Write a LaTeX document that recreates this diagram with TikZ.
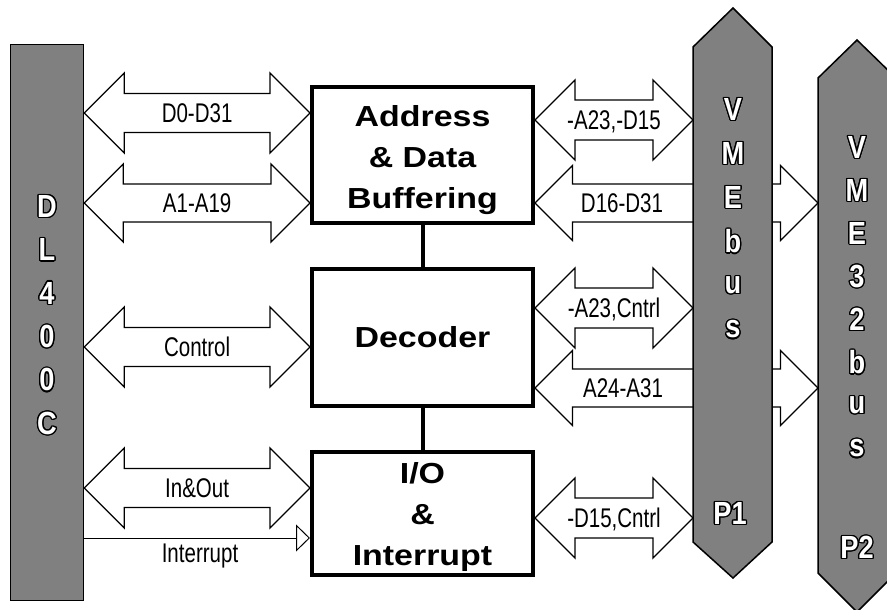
\documentclass[tikz,border=0pt]{standalone}
\usepackage{fontspec}
\usepackage{contour}
\usetikzlibrary{arrows.meta,calc}
\setmainfont{Liberation Sans}
\newfontfamily\labelfont[FakeStretch=0.76]{Liberation Sans}
\newfontfamily\boxfont[FakeStretch=1.17]{Liberation Sans Bold}
\newfontfamily\barfont[FakeStretch=0.85]{Liberation Sans Bold}
\contourlength{1.3pt}
% lettere bianche con bordo nero
\newcommand\hollow[1]{\contour{black}{\textcolor{white}{#1}}}

% hollow double arrow: tip, tip, head size, half shaft
\newcommand\busarrow[4]{%
  \draw[busline] (#1) -- ++(#3,-#3) -- ++(0,#3-#4) -- ($(#2)+(-#3,-#4)$)
    -- ++(0,#4-#3) -- (#2) -- ++(-#3,#3) -- ++(0,#4-#3)
    -- ($(#1)+(#3,#4)$) -- ++(0,#3-#4) -- cycle;
}

\tikzset{
  bar/.style={fill=black!50, draw=black, line width=1.5pt},
  blockbox/.style={draw, line width=4pt, fill=white, align=center, inner sep=0pt,
    font=\boxfont\fontsize{29pt}{41pt}\selectfont},
  link/.style={line width=4pt},
  busline/.style={draw=black, fill=white, line width=1.3pt, line join=miter},
  buslabel/.style={font=\labelfont\fontsize{27pt}{30pt}\selectfont, inner sep=0pt,
    text height=19.5pt, text depth=0pt},
  barletter/.style={font=\barfont\fontsize{32pt}{36pt}\selectfont, inner sep=0pt},
}

\begin{document}
\begin{tikzpicture}[x=1pt, y=-1pt]
  \useasboundingbox (0,0) rectangle (887,610);
  \clip (0,0) rectangle (887,610);

  % Blocchi centrali
  \node[blockbox, minimum width=221pt, minimum height=136pt] (addr) at (422.5,155) {\rule{0pt}{31pt}Address\\\& Data\\Buffering};
  \node[blockbox, minimum width=221pt, minimum height=137pt] (dec) at (422.5,337.5) {Decoder};
  \node[blockbox, minimum width=221pt, minimum height=123pt] (io) at (422.5,513.5) {\rule{0pt}{29pt}I/O\\\&\\Interrupt};
  \draw[link] (addr) -- (dec);
  \draw[link] (dec) -- (io);

  % Barra DL400C
  \node[bar, minimum width=73pt, minimum height=556pt] (dl) at (47,322.5) {};
  \foreach \ch [count=\i from 0] in {D,L,4,0,0,C}
    \node[barletter] (dl-\i) at (47,{207+43.4*\i}) {\hollow{\ch}};

  % Bus a sinistra
  \coordinate (l1a) at (dl.east |- 0,113);  \coordinate (l1b) at (addr.west |- 0,113);
  \coordinate (l2a) at (dl.east |- 0,203);  \coordinate (l2b) at (addr.west |- 0,203);
  \coordinate (l3a) at (dl.east |- 0,347);  \coordinate (l3b) at (dec.west |- 0,347);
  \coordinate (l4a) at (dl.east |- 0,488);  \coordinate (l4b) at (io.west |- 0,488);
  \busarrow{l1a}{l1b}{40}{19.5}
  \busarrow{l2a}{l2b}{39}{19}
  \busarrow{l3a}{l3b}{40}{19.5}
  \busarrow{l4a}{l4b}{40}{19.5}
  \node[buslabel] (t1) at ($(l1a)!0.5!(l1b)$) {D0-D31};
  \node[buslabel] (t2) at ($(l2a)!0.5!(l2b)$) {A1-A19};
  \node[buslabel] (t3) at ($(l3a)!0.5!(l3b)$) {Control};
  \node[buslabel] (t4) at ($(l4a)!0.5!(l4b)$) {In\&Out};

  % Interrupt
  \coordinate (i1) at (dl.east |- 0,538);
  \draw[line width=1pt, -{Triangle[open, length=14pt, width=27pt, line width=1pt]}] (i1) -- (io.west |- i1);
  \node[buslabel] (t5) at (200,553) {Interrupt};

  % Bus verso VME32bus (sotto P1)
  \coordinate (p1w) at (693,300);
  \coordinate (p2w) at (818,300);
  \coordinate (r2a) at (addr.east |- 0,203); \coordinate (r2b) at (p2w |- 0,203);
  \coordinate (r4a) at (dec.east |- 0,388);  \coordinate (r4b) at (p2w |- 0,388);
  \busarrow{r2a}{r2b}{37.5}{19}
  \busarrow{r4a}{r4b}{37.5}{19}

  % VMEbus P1
  \draw[bar] (693,47) -- (733,8) -- (772,47) -- (772,542) -- (733,578) -- (693,542) -- cycle;
  \foreach \ch [count=\i from 0] in {V,M,E,b,u,s}
    \node[barletter] (p1-\i) at (733,{110+44*\i}) {\hollow{\ch}};
  \node[barletter] (p1name) at (730,514) {\hollow{P1}};

  % VME32bus P2
  \draw[bar] (818,78) -- (857,40) -- (896,78) -- (896,573) -- (857,612) -- (818,573) -- cycle;
  \foreach \ch [count=\i from 0] in {V,M,E,3,2,b,u,s}
    \node[barletter] (p2-\i) at (857,{148+43*\i}) {\hollow{\ch}};
  \node[barletter] (p2name) at (857,548) {\hollow{P2}};

  % Bus verso P1
  \coordinate (r1a) at (addr.east |- 0,120); \coordinate (r1b) at (p1w |- 0,120);
  \coordinate (r3a) at (dec.east |- 0,308);  \coordinate (r3b) at (p1w |- 0,308);
  \coordinate (r5a) at (io.east |- 0,518);   \coordinate (r5b) at (p1w |- 0,518);
  \busarrow{r1a}{r1b}{40}{20}
  \busarrow{r3a}{r3b}{40}{20}
  \busarrow{r5a}{r5b}{40}{20}
  \node[buslabel] (t6) at ($(r1a)!0.5!(r1b)$) {-A23,-D15};
  \node[buslabel] (t7) at (622,203) {D16-D31};
  \node[buslabel] (t8) at ($(r3a)!0.5!(r3b)$) {-A23,Cntrl};
  \node[buslabel] (t9) at (623,388) {A24-A31};
  \node[buslabel] (t10) at ($(r5a)!0.5!(r5b)$) {-D15,Cntrl};
\end{tikzpicture}
\end{document}
